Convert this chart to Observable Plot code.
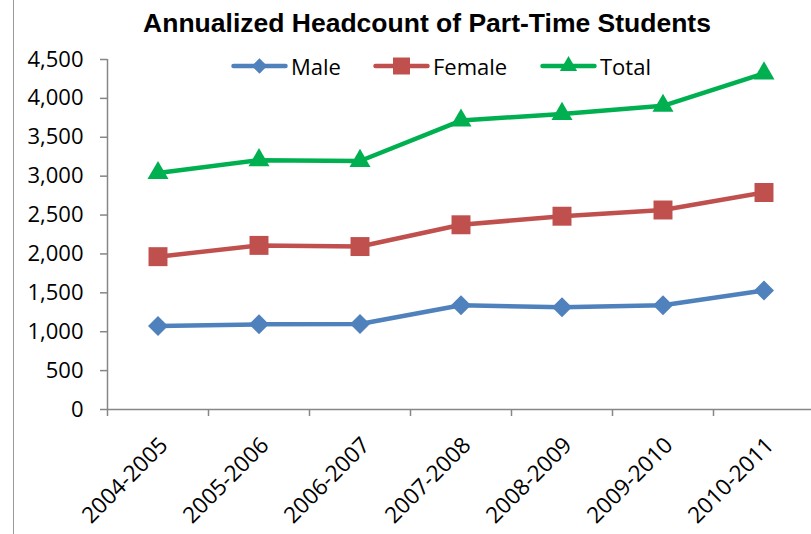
<!DOCTYPE html>
<html><head><meta charset="utf-8">
<script src="https://cdn.jsdelivr.net/npm/d3@7"></script>
<script src="https://cdn.jsdelivr.net/npm/@observablehq/plot@0.6"></script>
<style>
body{margin:0;background:#fff;width:811px;height:534px;overflow:hidden;position:relative;font-family:"Open Sans",sans-serif;}
#border{position:absolute;left:13px;top:0;width:0;height:534px;border-left:1.5px solid #999;}
#title{position:absolute;left:0;top:3px;width:854px;text-align:center;font:bold 26.5px "Liberation Sans",Arial,sans-serif;line-height:40px;color:#000;white-space:nowrap;}
#spacer{height:40px;}
.leg{position:absolute;top:54px;height:24px;display:flex;align-items:center;font-size:22px;color:#000;white-space:nowrap;}
.leg svg{display:block;margin-right:3px;}
</style></head>
<body>
<div id="border"></div>
<div id="title">Annualized Headcount of Part-Time Students</div>
<div id="spacer"></div>
<div id="chart"></div>
<div id="legend"></div>
<script>
const categories = ["2004-2005","2005-2006","2006-2007","2007-2008","2008-2009","2009-2010","2010-2011"];
const seriesNames = ["Male","Female","Total"];
const male   = [1075, 1095, 1100, 1340, 1315, 1340, 1530];
const female = [1965, 2110, 2095, 2375, 2485, 2565, 2790];
const total  = [3040, 3205, 3195, 3715, 3800, 3905, 4320];
const yTicks = [0,500,1000,1500,2000,2500,3000,3500,4000,4500];

const values = {Male: male, Female: female, Total: total};
const colors = {Male: "#4F81BD", Female: "#C0504D", Total: "#00B050"};
const symbols = {Male: "diamond2", Female: "square", Total: "triangle"};
const radii = {Male: 9, Female: 10.7, Total: 7.8};
const legendLeft = {Male: 231, Female: 373, Total: 540};

const rows = seriesNames.flatMap(s => categories.map((c, i) => ({series: s, cat: c, i, value: values[s][i]})));
const gray = "#868686";

const marks = [
  Plot.ruleY([0], {stroke: gray, strokeWidth: 1.5}),
  Plot.ruleX([0], {stroke: gray, strokeWidth: 1.5}),
  Plot.axisY(yTicks, {tickSize: 7, tickPadding: 17, tickFormat: d3.format(","), stroke: gray, strokeWidth: 1.5, fill: "#000", fontSize: 22, label: null}),
  Plot.axisX(d3.range(categories.length + 1), {tickSize: 7, tickFormat: () => "", stroke: gray, strokeWidth: 1.5, label: null}),
  Plot.axisX(categories.map((c, i) => i + 0.5), {tickSize: 0, tickPadding: 32, dx: 6, tickRotate: -45, tickFormat: d => categories[Math.floor(d)], fill: "#000", fontSize: 22.5, label: null})
];
for (const s of seriesNames) {
  const data = rows.filter(d => d.series === s);
  marks.push(Plot.line(data, {x: d => d.i + 0.5, y: "value", stroke: colors[s], strokeWidth: 4.5, strokeLinejoin: "round", strokeLinecap: "round"}));
}
for (const s of seriesNames) {
  const data = rows.filter(d => d.series === s);
  marks.push(Plot.dot(data, {x: d => d.i + 0.5, y: "value", fill: colors[s], stroke: "none", symbol: symbols[s], r: radii[s]}));
}

const chart = Plot.plot({
  width: 811,
  height: 494,
  marginTop: 19,
  marginBottom: 125,
  marginLeft: 107,
  marginRight: 0,
  style: {fontFamily: "Open Sans", fontSize: "22px", color: "#000", background: "transparent", overflow: "visible"},
  x: {domain: [0, categories.length], range: [107, 814]},
  y: {domain: [0, 4500]},
  marks
});
document.getElementById("chart").appendChild(chart);

const legend = document.getElementById("legend");
for (const s of seriesNames) {
  const item = document.createElement("div");
  item.className = "leg";
  item.style.left = legendLeft[s] + "px";
  const sym = d3.symbol(s === "Male" ? d3.symbolDiamond2 : s === "Female" ? d3.symbolSquare : d3.symbolTriangle, s === "Female" ? 17*17 : s === "Male" ? 150 : 130)();
  item.innerHTML = `<svg width="57" height="24"><line x1="2.5" x2="54.5" y1="12" y2="12" stroke="${colors[s]}" stroke-width="4.5" stroke-linecap="round"/><path transform="translate(28.5,12)" d="${sym}" fill="${colors[s]}"/></svg><span>${s}</span>`;
  legend.appendChild(item);
}
</script>
</body></html>
